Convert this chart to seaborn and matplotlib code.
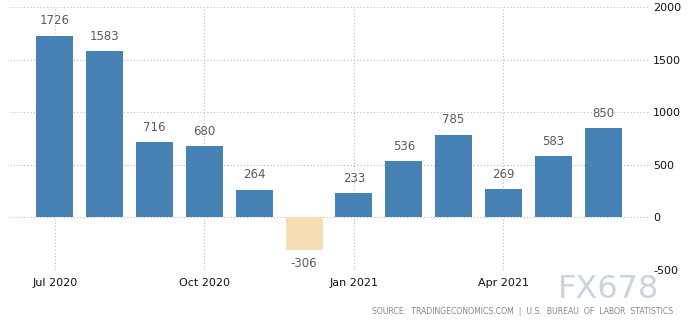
import matplotlib
matplotlib.use("Agg")
import matplotlib.pyplot as plt
import seaborn as sns
import pandas as pd

months = ["Jul 2020", "Aug 2020", "Sep 2020", "Oct 2020", "Nov 2020", "Dec 2020",
          "Jan 2021", "Feb 2021", "Mar 2021", "Apr 2021", "May 2021", "Jun 2021"]
values = [1726, 1583, 716, 680, 264, -306, 233, 536, 785, 269, 583, 850]
tick_labels = ["Jul 2020", "Oct 2020", "Jan 2021", "Apr 2021"]
y_ticks = [-500, 0, 500, 1000, 1500, 2000]

sns.set_theme(style="white")
plt.rcParams['font.family'] = ['DejaVu Sans']

df = pd.DataFrame({"month": months, "value": values})
df["sign"] = ["pos" if v >= 0 else "neg" for v in values]

fig = plt.figure(figsize=(6.88, 3.26), dpi=100)
ax = fig.add_axes([10/688, 1-270/326, (649-10)/688, (270-7)/326])

sns.barplot(data=df, x="month", y="value", hue="sign",
            palette={"pos": "#4682B4", "neg": "#F5DEB3"},
            dodge=False, width=0.74, legend=False, ax=ax, saturation=1,
            linewidth=0, edgecolor="none")

ax.set_xlim(-0.9, 11.92)
ax.set_ylim(-500, 2000)
ax.set_yticks(y_ticks)
ax.yaxis.tick_right()
ax.tick_params(axis="y", length=0, pad=3, labelsize=8, labelcolor="#111111")
ax.set_yticklabels([str(v) for v in y_ticks])

pos = [months.index(t) for t in tick_labels]
ax.set_xticks(pos)
ax.set_xticklabels(tick_labels)
ax.tick_params(axis="x", length=0, pad=6, labelsize=8, labelcolor="#111111")

ax.set_xlabel("")
ax.set_ylabel("")
for s in ax.spines.values():
    s.set_visible(False)

ax.grid(True, axis="both", linestyle=(0, (1, 2)), color="#bbbbbb", linewidth=0.8)
ax.set_axisbelow(True)

for i, v in enumerate(values):
    if v >= 0:
        ax.annotate(str(v), (i, v), xytext=(0, 6), textcoords="offset points",
                    ha="center", va="bottom", fontsize=8.5, color="#5a5a68")
    else:
        ax.annotate(str(v), (i, v), xytext=(0, -5), textcoords="offset points",
                    ha="center", va="top", fontsize=8.5, color="#5a5a68")

fig.text(609/688, 1-290/326, "FX678", fontsize=23, color="#c8d4e2", ha="center",
         va="center")
fig.text(673/688, 1-312/326, "SOURCE:  TRADINGECONOMICS.COM  |  U.S.  BUREAU  OF  LABOR  STATISTICS",
         fontsize=5.6, color="#888888", ha="right", va="center")

fig.savefig("out.png", dpi=100)
